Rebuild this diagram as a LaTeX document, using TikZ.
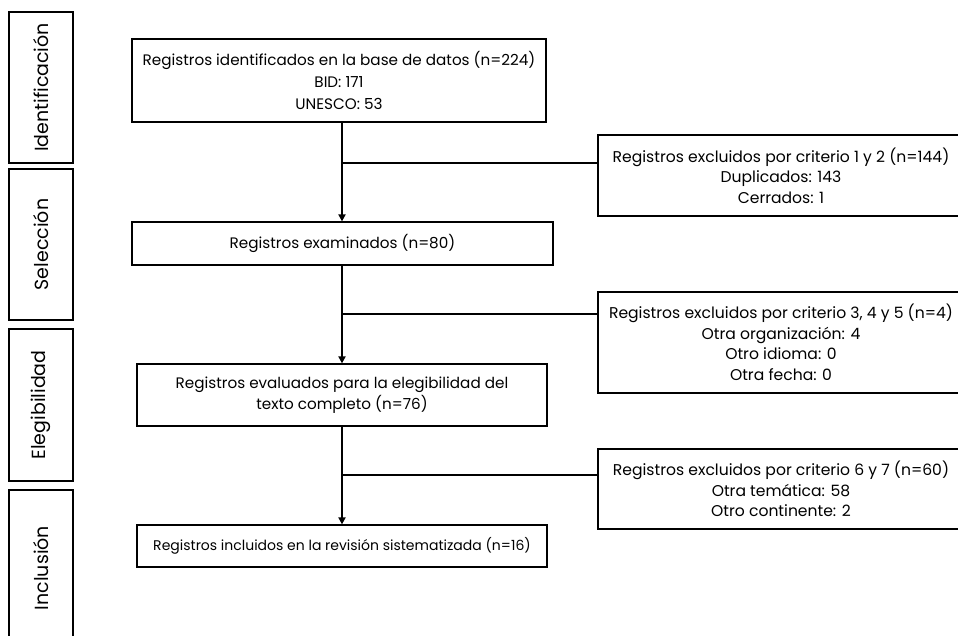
\documentclass[tikz,border=0pt]{standalone}
\usepackage{fontspec}
\setmainfont{Poppins}
\usetikzlibrary{arrows.meta,positioning}
\tikzset{
  stagebox/.style={draw,line width=1.2pt,rotate=90,minimum width=151pt,minimum height=64pt,inner sep=0pt,font=\fontsize{19}{21}\selectfont},
  recordbox/.style={draw,line width=1.2pt,align=center,inner sep=0pt,font=\fontsize{15.2}{21}\selectfont},
  excludebox/.style={recordbox,minimum width=366pt,font=\fontsize{15.6}{20.5}\selectfont},
  arrow/.style={-{Triangle[length=7pt,width=7pt]},line width=1.8pt},
  branch/.style={line width=1.8pt}
}

\begin{document}
\begin{tikzpicture}[x=1pt,y=-1pt]
\useasboundingbox (0,0) rectangle (958,636);
\clip (0,0) rectangle (958,636);
% stages
\node[stagebox] (identification) at (41,87.5) {Identificación};
\node[stagebox] (selection) at (41,244.5) {Selección};
\node[stagebox,minimum width=152pt] (eligibility) at (41,405) {Elegibilidad};
\node[stagebox,minimum width=156pt] (inclusion) at (41,568) {Inclusión};
% main flow
\node[recordbox,minimum width=414pt,minimum height=83pt,font=\fontsize{15.2}{22}\selectfont] (identified) at (339,80.5) {Registros identificados en la base de datos (n=224)\\BID: 171\\UNESCO: 53};
\node[recordbox,minimum width=421pt,minimum height=43pt] (screened) at (342.5,243.5) {Registros examinados (n=80)};
\node[recordbox,minimum width=410pt,minimum height=62pt] (eligible) at (342,395) {Registros evaluados para la elegibilidad del\\texto completo (n=76)};
\node[recordbox,minimum width=410pt,minimum height=42pt,font=\fontsize{14}{21}\selectfont] (included) at (342,546) {Registros incluidos en la revisión sistematizada (n=16)};
% exclusions
\node[excludebox,minimum height=81pt] (excluded1) at (781,175.5) {Registros excluidos por criterio 1 y 2 (n=144)\\Duplicados: 143\\Cerrados: 1};
\node[excludebox,minimum height=101pt] (excluded2) at (781,342.5) {Registros excluidos por criterio 3, 4 y 5 (n=4)\\Otra organización: 4\\Otro idioma: 0\\Otra fecha: 0};
\node[excludebox,minimum height=80pt] (excluded3) at (781,489) {Registros excluidos por criterio 6 y 7 (n=60)\\Otra temática: 58\\Otro continente: 2};
% connectors
\coordinate (spine) at (342,0);
\coordinate (split1) at (342,163);
\coordinate (split2) at (342,314);
\coordinate (split3) at (342,475);
\draw[arrow] (identified.south -| spine) -- (screened.north -| spine);
\draw[arrow] (screened.south -| spine) -- (eligible.north -| spine);
\draw[arrow] (eligible.south -| spine) -- (included.north -| spine);
\draw[branch] (split1) -- (split1 -| excluded1.west);
\draw[branch] (split2) -- (split2 -| excluded2.west);
\draw[branch] (split3) -- (split3 -| excluded3.west);
\end{tikzpicture}
\end{document}
